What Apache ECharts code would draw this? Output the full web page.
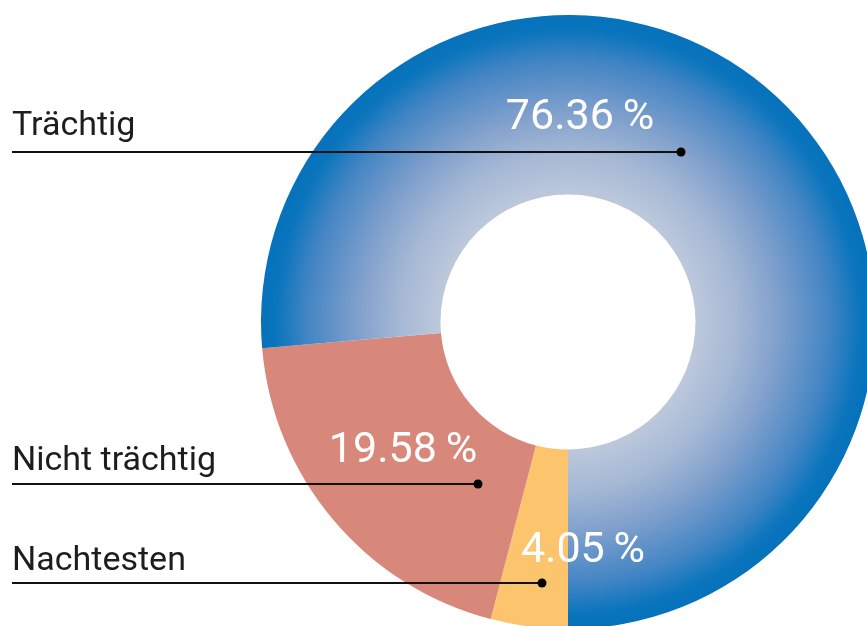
<!DOCTYPE html>
<html>
<head>
<meta charset="utf-8">
<script src="https://cdn.jsdelivr.net/npm/echarts@6/dist/echarts.min.js"></script>
<style>
  html, body { margin: 0; padding: 0; background: #fff; }
  #main { width: 867px; height: 626px; }
</style>
</head>
<body>
<div id="main"></div>
<script>
// slices, drawn clockwise starting at 6 o'clock
const categories = ['Nachtesten', 'Nicht trächtig', 'Trächtig'];
const shares = [4.05, 19.58, 76.36];

const FONT = 'Roboto';
const cx = 568, cy = 322;

// where the % labels and the name lines sit
const pctPos = [[583, 551], [403, 451], [580, 118]];
const nameLines = [
    {textY: 561, lineY: 583, dotX: 542},
    {textY: 461, lineY: 484, dotX: 478},
    {textY: 126, lineY: 152, dotX: 681}
];

const blueGrad = {
    type: 'radial', x: cx, y: cy, r: 307, global: true,
    colorStops: [
        {offset: 0, color: '#dfe5ef'},
        {offset: 0.415, color: '#bdc8db'},
        {offset: 0.55, color: '#a5b8d5'},
        {offset: 0.69, color: '#7e9fcc'},
        {offset: 0.85, color: '#4385c4'},
        {offset: 0.95, color: '#0a75bd'},
        {offset: 1, color: '#0672bb'}
    ]
};
const colors = ['#fdc46e', '#d8887a', blueGrad];

const chart = echarts.init(document.getElementById('main'));

const graphics = [];
categories.forEach(function (name, i) {
    const l = nameLines[i];
    graphics.push({
        type: 'text', z: 100, x: 12, y: l.textY,
        style: {text: name, fill: '#1d1d1b', font: '34px ' + FONT, verticalAlign: 'middle', align: 'left'}
    });
    graphics.push({
        type: 'line', z: 100,
        shape: {x1: 12, y1: l.lineY, x2: l.dotX, y2: l.lineY},
        style: {stroke: '#111', lineWidth: 2}
    });
    graphics.push({
        type: 'circle', z: 101,
        shape: {cx: l.dotX, cy: l.lineY, r: 4.5},
        style: {fill: '#000'}
    });
});

chart.setOption({
    animation: false,
    graphic: graphics,
    series: [
        {
            type: 'pie',
            center: [cx, cy],
            radius: [127.5, 307],
            startAngle: 270,
            clockwise: true,
            silent: true,
            itemStyle: {borderWidth: 0},
            data: categories.map(function (c, i) {
                return {name: c, value: shares[i], itemStyle: {color: colors[i]}};
            }),
            label: {
                show: true,
                position: 'inside',
                color: '#fff',
                fontFamily: FONT,
                fontSize: 43,
                formatter: function (p) { return p.value.toFixed(2) + '\u2009%'; }
            },
            labelLine: {show: false},
            labelLayout: function (p) {
                const pos = pctPos[p.dataIndex];
                return {x: pos[0], y: pos[1], align: 'center', verticalAlign: 'middle'};
            }
        }
    ]
});
</script>
</body>
</html>
